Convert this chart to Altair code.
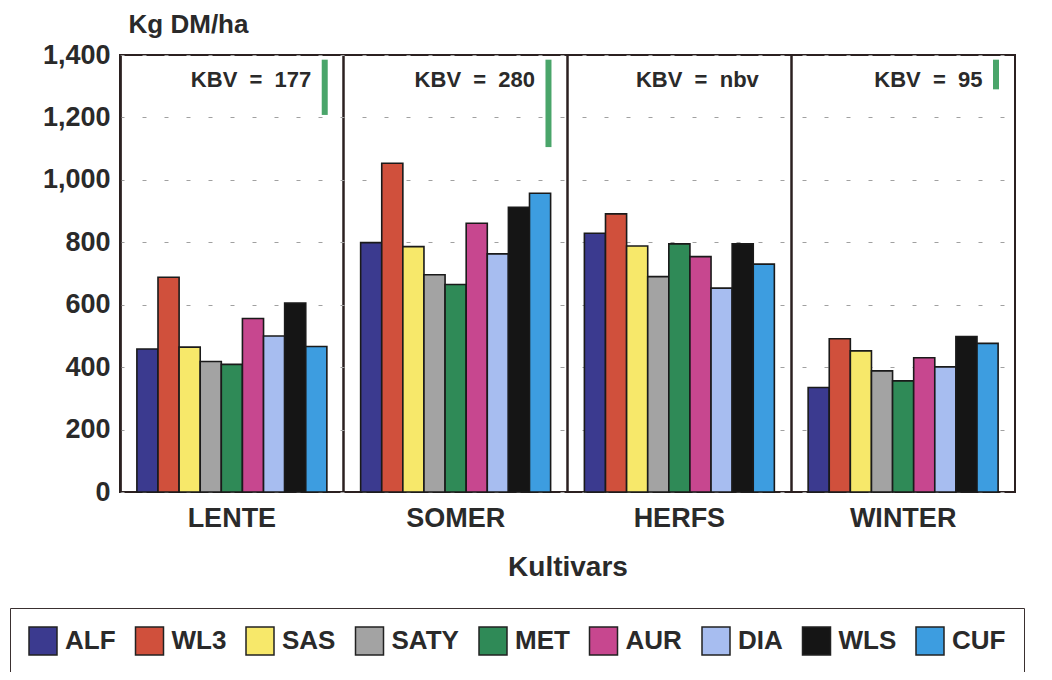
import altair as alt
import pandas as pd

seasons = ["LENTE", "SOMER", "HERFS", "WINTER"]
cultivars = ["ALF", "WL3", "SAS", "SATY", "MET", "AUR", "DIA", "WLS", "CUF"]
colors = ["#3b3a8f", "#d0503c", "#f7e86a", "#a3a3a3", "#2f8a57",
          "#c7478f", "#a7bdf0", "#151515", "#3d9de0"]

lente = [458, 688, 464, 418, 409, 556, 500, 605, 466]
somer = [799, 1053, 786, 696, 665, 861, 763, 912, 957]
herfs = [829, 891, 788, 690, 795, 754, 653, 795, 730]
winter = [335, 491, 452, 388, 356, 430, 401, 498, 476]

kbv_labels = ["177", "280", "nbv", "95"]
kbv_values = [177, 280, None, 95]
kbv_top = 1385
kbv_text_y = 1320

FONT = "Liberation Sans"
NB = "\u00a0"

rows = []
for s, vals in zip(seasons, [lente, somer, herfs, winter]):
    for c, v in zip(cultivars, vals):
        rows.append({"season": s, "cultivar": c, "value": v})
df = pd.DataFrame(rows)

kbv_df = pd.DataFrame({
    "season": seasons,
    "label": [f"KBV{NB}{NB}={NB}{NB}{l}" for l in kbv_labels],
})
rule_df = pd.DataFrame([
    {"season": s, "top": kbv_top, "bottom": kbv_top - k}
    for s, k in zip(seasons, kbv_values) if k is not None
])

x_scale = alt.Scale(domain=seasons, paddingInner=0, paddingOuter=0)
y_scale = alt.Scale(domain=[0, 1400], nice=False)

bars = alt.Chart(df).mark_bar(stroke="#1a1a1a", strokeWidth=1.6).encode(
    x=alt.X("season:N", scale=x_scale, sort=seasons,
            axis=alt.Axis(title="Kultivars", bandPosition=0, grid=True,
                          gridColor="#2b2020", gridWidth=2.5, ticks=False,
                          domain=False, labelAngle=0, labelPadding=13,
                          labelFontSize=27, titleFontSize=28,
                          titlePadding=22)),
    xOffset=alt.XOffset("cultivar:N", sort=cultivars,
                        scale=alt.Scale(paddingInner=0, paddingOuter=0.8)),
    y=alt.Y("value:Q", scale=y_scale,
            axis=alt.Axis(title="Kg DM/ha", values=list(range(0, 1401, 200)),
                          format=",d", grid=True, gridColor="#a0a0a0",
                          gridDash=[4, 18], gridWidth=1, ticks=False,
                          domainColor="#2b2020", domainWidth=2,
                          labelPadding=10, labelFontSize=27, titleFontSize=26,
                          titleAngle=0, titleAlign="center",
                          titleBaseline="middle", titleX=68, titleY=-31)),
    color=alt.Color("cultivar:N", sort=cultivars,
                    scale=alt.Scale(domain=cultivars, range=colors),
                    legend=alt.Legend(title=None, orient="none", direction="horizontal",
                                      columns=9, legendX=-110, legendY=553,
                                      symbolType="square", symbolSize=784,
                                      symbolStrokeColor="#222", symbolStrokeWidth=1.5,
                                      symbolOpacity=1,
                                      labelFont=FONT, labelFontSize=26,
                                      labelFontWeight="bold", labelColor="#2a2a2a",
                                      labelOffset=7, columnPadding=16.5,
                                      padding=18, strokeColor="#3a3030",
                                      fillColor="white")),
)

rules = alt.Chart(rule_df).mark_rule(color="#4aa56a", strokeWidth=6).encode(
    x=alt.X("season:N", scale=x_scale, sort=seasons, bandPosition=0.915),
    y=alt.Y("top:Q", scale=y_scale),
    y2="bottom:Q",
)

texts = alt.Chart(kbv_df).mark_text(
    align="right", baseline="middle", font=FONT, fontSize=22,
    fontWeight="bold", color="#2a2a2a"
).encode(
    x=alt.X("season:N", scale=x_scale, sort=seasons, bandPosition=0.855),
    y=alt.Y("y:Q", scale=y_scale),
    text="label:N",
).transform_calculate(y=str(kbv_text_y))

chart = alt.layer(bars, rules, texts).properties(
    width=895, height=437,
    autosize=alt.AutoSizeParams(type="none"),
    padding={"left": 112, "top": 47, "right": 20, "bottom": 180},
    background="white",
).configure_view(
    stroke="#2b2020", strokeWidth=2
).configure_axis(
    labelFont=FONT, labelFontWeight="bold", labelColor="#2a2a2a",
    titleFont=FONT, titleFontWeight="bold", titleColor="#2a2a2a",
)

chart.save("out.html", embed_options={"renderer": "svg", "actions": False})
